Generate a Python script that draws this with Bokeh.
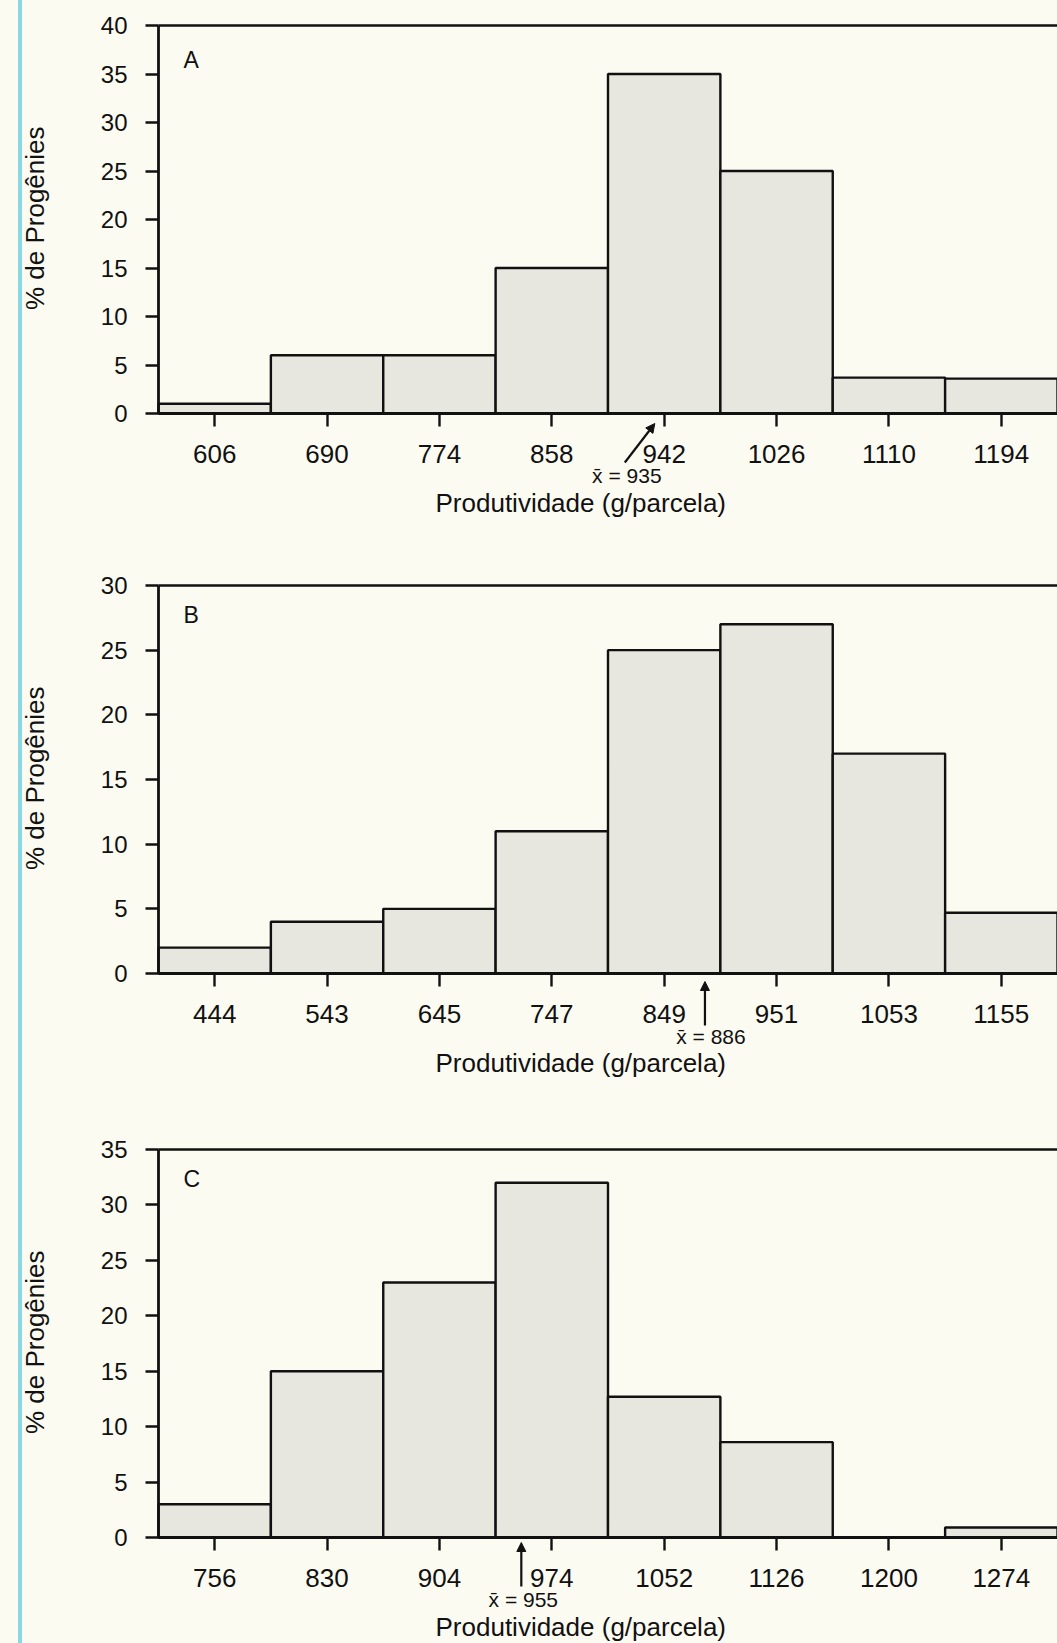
import numpy as np
from bokeh.plotting import figure
from bokeh.layouts import column
from bokeh.models import Range1d, FixedTicker, Label, Arrow, NormalHead, Title
from bokeh.embed import file_html
from bokeh.resources import INLINE

# ---------------- data ----------------
letters = ["A", "B", "C"]

ticks_a = [606, 690, 774, 858, 942, 1026, 1110, 1194]
pct_a = [1, 6, 6, 15, 35, 25, 3.7, 3.6]
mean_a = 935

ticks_b = [444, 543, 645, 747, 849, 951, 1053, 1155]
pct_b = [2, 4, 5, 11, 25, 27, 17, 4.7]
mean_b = 886

ticks_c = [756, 830, 904, 974, 1052, 1126, 1200, 1274]
pct_c = [3, 15, 23, 32, 12.7, 8.6, 0, 0.9]
mean_c = 955

ymax_list = [40, 30, 35]

x_title = "Produtividade (g/parcela)"
y_title = "% de Progênies"

# ---------------- style ----------------
BG = "#fcfbf1"
BAR = "#e8e7df"
INK = "#111111"
CYAN = "#8ad8e4"
FONT = "Liberation Sans"
W = 1057
L = 66            # left border (holds the y title)
AXIS_X = 158      # pixel position of the y axis
FRAME_H = 388     # pixel height of the 0..ymax span
EXT = 73          # frame extension below zero (arrows, mean labels)
TOP_PAD = 14      # frame extension above the top line (room for top tick label)
PPU_X = (W - AXIS_X) / 8.0


def panel(letter, ticks, pct, mean, ytop, height, top_px,
          letter_dy, head_dy, tail_dy, tail_dx, label_dy, label_dx):
    ppu_y = FRAME_H / ytop
    bottom = height - top_px - FRAME_H - EXT
    p = figure(width=W, height=height, output_backend="svg", toolbar_location=None,
               x_range=Range1d(-0.5 - (AXIS_X - L) / PPU_X, 7.5),
               y_range=Range1d(-EXT / ppu_y, ytop + TOP_PAD / ppu_y),
               min_border_left=L, min_border_right=0,
               min_border_top=top_px - TOP_PAD, min_border_bottom=bottom,
               background_fill_color=BG, border_fill_alpha=0,
               outline_line_color=None)
    idx = list(range(len(ticks)))

    p.quad(left=[i - 0.5 for i in idx], right=[i + 0.5 for i in idx],
           bottom=[0] * len(idx), top=pct,
           fill_color=BAR, line_color=INK, line_width=2.4)

    # top frame line
    p.segment(x0=[-0.5], x1=[7.5], y0=[ytop], y1=[ytop], line_color=INK, line_width=2.6)

    p.xgrid.visible = False
    p.ygrid.visible = False

    for ax in (p.xaxis[0], p.yaxis[0]):
        ax.axis_line_color = INK
        ax.axis_line_width = 2.8
        ax.major_tick_line_color = INK
        ax.major_tick_line_width = 2.4
        ax.major_tick_out = 13
        ax.major_tick_in = 0
        ax.minor_tick_line_color = None
        ax.major_label_text_font = FONT
        ax.major_label_text_color = INK

    xa = p.xaxis[0]
    xa.fixed_location = 0
    xa.bounds = (-0.5, 7.5)
    xa.ticker = FixedTicker(ticks=idx)
    xa.major_label_overrides = {i: str(t) for i, t in zip(idx, ticks)}
    xa.major_label_text_font_size = "26px"
    xa.major_label_standoff = 18

    ya = p.yaxis[0]
    ya.fixed_location = -0.5
    ya.bounds = (0, ytop)
    ya.ticker = FixedTicker(ticks=list(range(0, ytop + 1, 5)))
    ya.major_label_text_font_size = "24px"
    ya.major_label_standoff = 18

    # axis titles
    p.add_layout(Title(text=y_title, align="right", offset=101 + TOP_PAD, vertical_align="middle",
                       standoff=32, text_font=FONT, text_font_size="26px",
                       text_font_style="normal", text_color=INK), "left")
    p.add_layout(Title(text=x_title, align="left", offset=435 - L, vertical_align="middle",
                       standoff=0, text_font=FONT, text_font_size="26px",
                       text_font_style="normal", text_color=INK), "below")

    # panel letter
    p.add_layout(Label(x=-0.5 + 25 / PPU_X, y=ytop - letter_dy / ppu_y, text=letter,
                       text_baseline="top", text_align="left",
                       text_font=FONT, text_font_size="23px", text_color=INK))

    # mean arrow and label
    mpos = float(np.interp(mean, ticks, idx))
    p.add_layout(Arrow(end=NormalHead(size=9, fill_color=INK, line_color=INK, line_width=1),
                       x_start=mpos + tail_dx / PPU_X, y_start=-tail_dy / ppu_y,
                       x_end=mpos, y_end=-head_dy / ppu_y,
                       line_color=INK, line_width=2.2))
    p.add_layout(Label(x=mpos + (tail_dx + label_dx) / PPU_X, y=-label_dy / ppu_y,
                       text="x\u0304 = %d" % mean,
                       text_align="center", text_baseline="middle",
                       text_font=FONT, text_font_size="21px", text_color=INK))
    return p


pa = panel(letters[0], ticks_a, pct_a, mean_a, ymax_list[0], 567, 25,
           letter_dy=21, head_dy=10, tail_dy=49, tail_dx=-30, label_dy=62, label_dx=2)
pb = panel(letters[1], ticks_b, pct_b, mean_b, ymax_list[1], 564, 18,
           letter_dy=16, head_dy=8, tail_dy=52, tail_dx=0, label_dy=63, label_dx=6)
pc = panel(letters[2], ticks_c, pct_c, mean_c, ymax_list[2], 512, 18,
           letter_dy=16, head_dy=5, tail_dy=49, tail_dx=0, label_dy=62, label_dx=2)

page_bg = ("linear-gradient(90deg, %s 0px, %s 18px, %s 18px, %s 22px, %s 22px)"
           % (BG, BG, CYAN, CYAN, BG))
layout = column(pa, pb, pc, spacing=0, styles={"background": page_bg})
open("out.html", "w").write(file_html(layout, INLINE))
